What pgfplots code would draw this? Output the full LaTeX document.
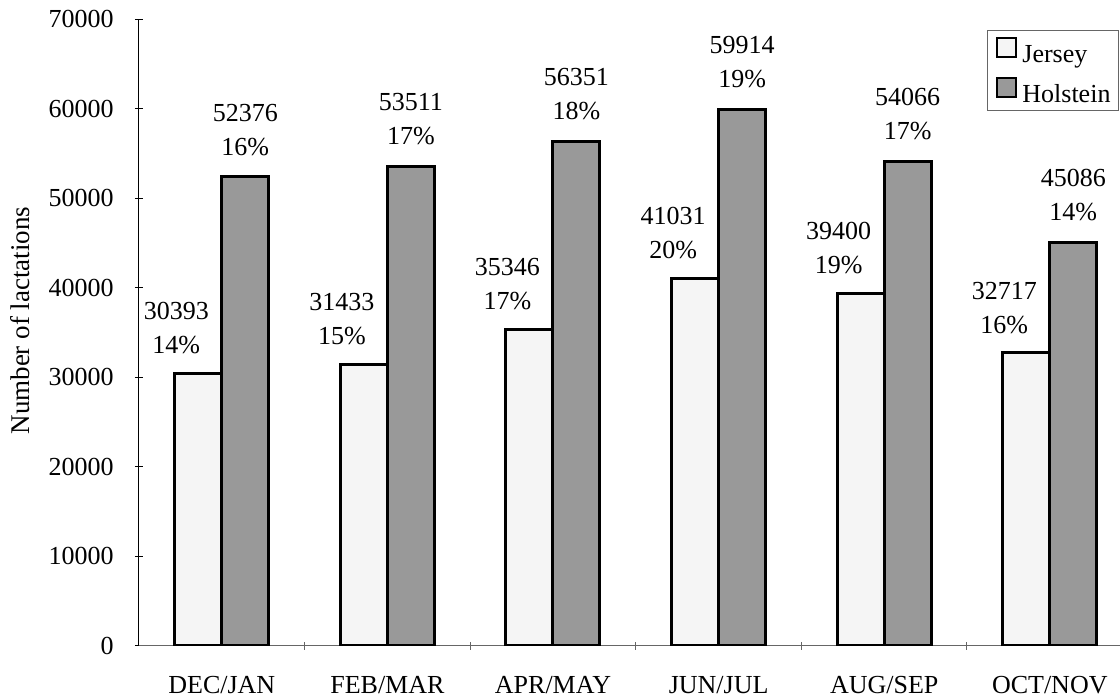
\documentclass[border=0pt]{standalone}
\usepackage{fontspec}
\setmainfont{Liberation Serif}
\usepackage{pgfplots}
\pgfplotsset{compat=1.18}
\usepackage{pgfplotstable}

\definecolor{jerseyfill}{HTML}{F5F5F5}
\definecolor{holsteinfill}{HTML}{999999}

\pgfplotstableread{
x y pct
0 30393 14
1 31433 15
2 35346 17
3 41031 20
4 39400 19
5 32717 16
}\jersey

\pgfplotstableread{
x y pct
0 52376 16
1 53511 17
2 56351 18
3 59914 19
4 54066 17
5 45086 14
}\holstein

\newcommand{\chfont}{\fontsize{13}{17}\selectfont}

\begin{document}
\begin{tikzpicture}
\begin{axis}[
    scale only axis,
    width=490.5pt, height=313.5pt,
    ybar=0pt, bar width=23.5pt,
    xmin=-0.5, xmax=5.424,
    ymin=0, ymax=70000,
    axis x line=bottom, axis y line=left,
    axis line style={-, line width=0.5pt},
    x axis line style={draw=black!60},
    /pgf/number format/assume math mode=true,
    /pgf/number format/1000 sep={},
    scaled y ticks=false,
    ytick={0,10000,...,70000},
    xtick={0,...,5},
    xticklabels={DEC/JAN,FEB/MAR,APR/MAY,JUN/JUL,AUG/SEP,OCT/NOV},
    minor xtick={0.5,1.5,2.5,3.5,4.5},
    major x tick style={draw=none},
    minor x tick style={draw=black!60, line width=0.5pt},
    y tick style={draw=black, line width=0.5pt},
    major tick length=4pt, minor tick length=4pt,
    tick label style={font=\chfont},
    yticklabel style={anchor=east, inner sep=0pt, xshift=-10.5pt},
    xticklabel style={anchor=north, inner sep=0pt, yshift=-13pt},
    ylabel={Number of lactations},
    ylabel style={at={(axis description cs:-0.1213,0.5191)}, anchor=center,
        font=\fontsize{13.5}{16}\selectfont},
    legend style={at={(rel axis cs:1,1)}, anchor=north east,
        xshift=-0.5pt, yshift=-5.5pt,
        draw=black!60, line width=0.5pt, font=\chfont,
        inner xsep=4pt, inner ysep=3pt, row sep=6pt,
        nodes={inner sep=0pt, text height=9pt, text depth=1pt},
        /tikz/every even column/.append style={column sep=0pt},
        /tikz/every odd column/.append style={column sep=2.5pt}},
    legend cell align=left,
    barleg/.style={legend image code/.code={
        \draw[##1, line width=1.2pt] (0pt,-1pt) rectangle (9.5pt,8.5pt);}},
]
\addplot[fill=jerseyfill, draw=black, line width=1.5pt,
    visualization depends on={\thisrow{pct}\as\pct},
    nodes near coords={\pgfmathprintnumber{\pgfplotspointmeta}\\\pgfmathprintnumber[fixed,precision=0]{\pct}\%},
    every node near coord/.append style={align=center, anchor=south,
        inner sep=0pt, xshift=-11pt, yshift=9pt, font=\chfont, text=black},
    barleg]
    table[x=x, y=y]{\jersey};
\addplot[fill=holsteinfill, draw=black, line width=1.5pt,
    visualization depends on={\thisrow{pct}\as\pct},
    nodes near coords={\pgfmathprintnumber{\pgfplotspointmeta}\\\pgfmathprintnumber[fixed,precision=0]{\pct}\%},
    every node near coord/.append style={align=center, anchor=south,
        inner sep=0pt, yshift=10pt, font=\chfont, text=black},
    barleg]
    table[x=x, y=y]{\holstein};
\legend{Jersey,Holstein}
\coordinate (O) at (rel axis cs:0,0);
\end{axis}
\pgfresetboundingbox
\useasboundingbox (O) ++(-69.5pt,-25pt) rectangle ++(560pt,348pt);
\end{tikzpicture}
\end{document}
